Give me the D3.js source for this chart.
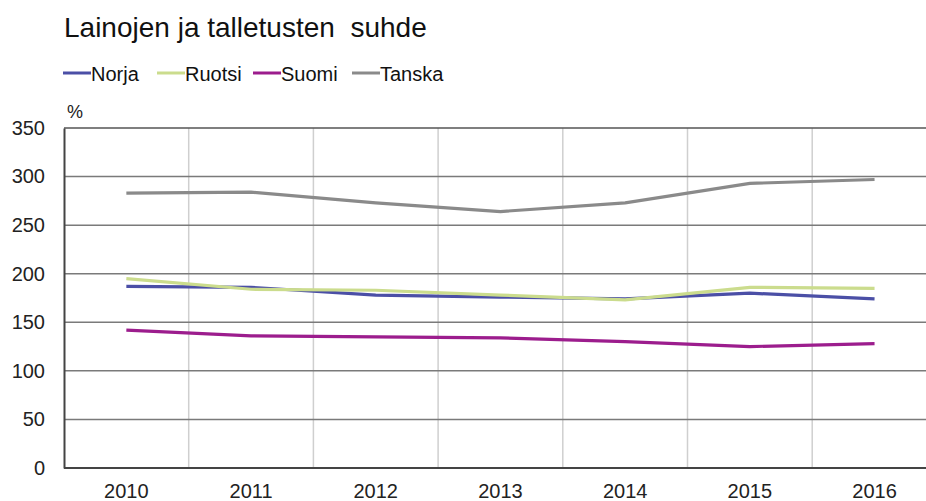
<!DOCTYPE html>
<html>

<head>
    <meta charset="UTF-8">
    <title>Lainojen ja talletusten suhde</title>
    <style>
        body {
            margin: 0;
            background-color: white;
            font-family: "Liberation Sans", Arial, sans-serif;
        }
    </style>
</head>

<body>
    <svg></svg>

    <script src="https://d3js.org/d3.v7.min.js"></script>

    <script>

        let width = 926, height = 501;

        // data
        let years = ["2010", "2011", "2012", "2013", "2014", "2015", "2016"];
        let norja = [187, 186, 178, 176, 174, 180, 174];
        let ruotsi = [195, 184, 183, 178, 173, 186, 185];
        let suomi = [142, 136, 135, 134, 130, 125, 128];
        let tanska = [283, 284, 273, 264, 273, 293, 297];
        let yTicks = [0, 50, 100, 150, 200, 250, 300, 350];

        let series = [
            { name: "Norja", values: norja, color: "#4b4fa6" },
            { name: "Ruotsi", values: ruotsi, color: "#cbdc8d" },
            { name: "Suomi", values: suomi, color: "#9c1d8d" },
            { name: "Tanska", values: tanska, color: "#8a8a8a" }
        ];

        let svg = d3.select("svg")
            .attr("width", width)
            .attr("height", height);

        let plotLeft = 64, plotTop = 128, plotBottom = 468, bandW = 124.7;

        let x = d3.scaleBand()
            .domain(years)
            .range([plotLeft, plotLeft + bandW * years.length]);

        let y = d3.scaleLinear()
            .domain([0, 350])
            .range([plotBottom, plotTop]);

        // title
        svg.append("text")
            .attr("x", 64)
            .attr("y", 37)
            .style("font-size", "28px")
            .attr("fill", "#111")
            .text("Lainojen ja talletusten\u00a0 suhde");

        // legend
        let legendX = [63, 157, 253, 352];
        let lg = svg.append("g");
        series.forEach((s, i) => {
            lg.append("line")
                .attr("x1", legendX[i]).attr("x2", legendX[i] + 28)
                .attr("y1", 73).attr("y2", 73)
                .attr("stroke", s.color)
                .attr("stroke-width", 3);
            lg.append("text")
                .attr("x", legendX[i] + 28)
                .attr("y", 80.5)
                .style("font-size", "20px")
                .attr("fill", "#111")
                .text(s.name);
        });

        // vertical gridlines between categories
        svg.append("g")
            .selectAll("line")
            .data(years.slice(1))
            .enter()
            .append("line")
            .attr("x1", d => x(d)).attr("x2", d => x(d))
            .attr("y1", plotTop).attr("y2", plotBottom)
            .attr("stroke", "#cfcfcf")
            .attr("stroke-width", 1.5);

        // horizontal gridlines
        svg.append("g")
            .selectAll("line")
            .data(yTicks.slice(1))
            .enter()
            .append("line")
            .attr("x1", plotLeft).attr("x2", width)
            .attr("y1", d => y(d)).attr("y2", d => y(d))
            .attr("stroke", d => d == 350 ? "#555" : "#7a7a7a")
            .attr("stroke-width", 1.5);

        // y axis
        let yAxis = d3.axisLeft(y).tickValues(yTicks).tickSize(0).tickPadding(19);
        let gy = svg.append("g")
            .attr("transform", "translate(" + plotLeft + ",0)")
            .call(yAxis);
        gy.select(".domain").attr("stroke", "#444").attr("stroke-width", 2);
        gy.selectAll("text")
            .style("font-size", "20px")
            .style("font-family", "'Liberation Sans', Arial, sans-serif")
            .attr("fill", "#222");

        // x axis
        let xAxis = d3.axisBottom(x).tickSize(0).tickPadding(16);
        let gx = svg.append("g")
            .attr("transform", "translate(0," + plotBottom + ")")
            .call(xAxis);
        gx.select(".domain").remove();
        gx.append("line")
            .attr("x1", plotLeft).attr("x2", width)
            .attr("stroke", "#444").attr("stroke-width", 2);
        gx.selectAll("text")
            .style("font-size", "20px")
            .style("font-family", "'Liberation Sans', Arial, sans-serif")
            .attr("fill", "#222");

        // unit label
        svg.append("text")
            .attr("x", 67)
            .attr("y", 118)
            .style("font-size", "18px")
            .attr("fill", "#222")
            .text("%");

        // lines
        let line = d3.line()
            .x((d, i) => x(years[i]) + x.bandwidth() / 2)
            .y(d => y(d));

        svg.append("g")
            .selectAll("path")
            .data(series)
            .enter()
            .append("path")
            .attr("d", d => line(d.values))
            .attr("fill", "none")
            .attr("stroke", d => d.color)
            .attr("stroke-width", 3.2);

    </script>

</body>

</html>
